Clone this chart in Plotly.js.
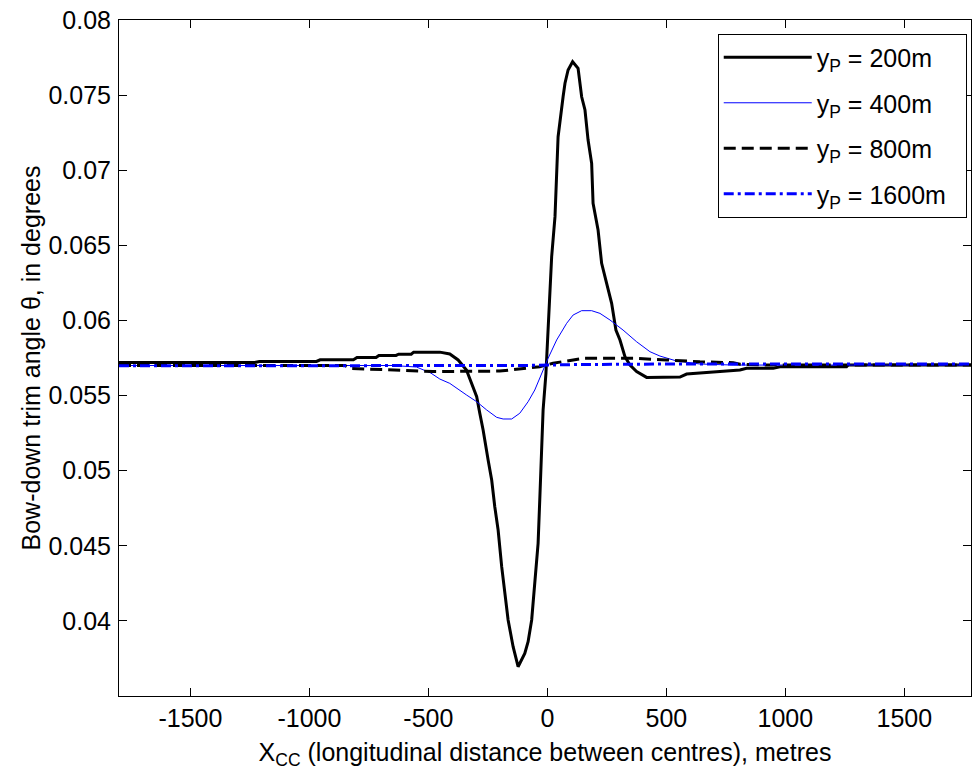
<!DOCTYPE html>
<html>
<head>
<meta charset="utf-8">
<script src="https://cdn.plot.ly/plotly-3.0.1.min.js"></script>
<style>html,body{margin:0;padding:0;background:#fff;}#chart{width:972px;height:776px;}</style>
</head>
<body>
<div id="chart"></div>
<script>
// ---- data ----
const seriesNames = ["y<sub>P</sub> = 200m", "y<sub>P</sub> = 400m", "y<sub>P</sub> = 800m", "y<sub>P</sub> = 1600m"];

const x200 = [-1800, -1230, -1210, -970, -955, -815, -800, -720, -708, -636, -625, -572, -562, -452, -410, -375, -340, -318, -297, -284, -270, -249, -234, -221, -207, -192, -179, -165, -144, -123, -95, -81, -66, -53, -39, -32, -24, -18, -6, 3, 11, 18, 32, 39, 45, 66, 74, 87, 106, 129, 144, 158, 171, 186, 192, 213, 228, 249, 270, 288, 305, 326, 347, 375, 417, 557, 585, 711, 809, 837, 949, 977, 1257, 1263, 1780];
const y200 = [0.05720, 0.05720, 0.05727, 0.05727, 0.05738, 0.05738, 0.05753, 0.05753, 0.05767, 0.05767, 0.05775, 0.05775, 0.05789, 0.05789, 0.05777, 0.05737, 0.05670, 0.05581, 0.05492, 0.05382, 0.05271, 0.05071, 0.04938, 0.04760, 0.04605, 0.04361, 0.04184, 0.04006, 0.03828, 0.03695, 0.03784, 0.03861, 0.04006, 0.04227, 0.04516, 0.04805, 0.05115, 0.05404, 0.05648, 0.05914, 0.06136, 0.06424, 0.06691, 0.07001, 0.07223, 0.07489, 0.07579, 0.07667, 0.07722, 0.07678, 0.07489, 0.07401, 0.07201, 0.07046, 0.06780, 0.06602, 0.06380, 0.06247, 0.06114, 0.05936, 0.05870, 0.05759, 0.05703, 0.05659, 0.05621, 0.05623, 0.05643, 0.05659, 0.05670, 0.05681, 0.05681, 0.05692, 0.05692, 0.05703, 0.05703];

const x400 = [-1800, -650, -550, -490, -452, -410, -339, -297, -255, -213, -186, -150, -116, -81, -53, -24, 3, 39, 81, 108, 144, 186, 221, 263, 318, 375, 431, 473, 543, 641, 781, 1780];
const y400 = [0.05700, 0.05700, 0.05690, 0.05650, 0.05610, 0.05581, 0.05503, 0.05459, 0.05404, 0.05355, 0.05344, 0.05344, 0.05382, 0.05459, 0.05537, 0.05648, 0.05748, 0.05870, 0.05981, 0.06036, 0.06065, 0.06065, 0.06047, 0.06003, 0.05936, 0.05858, 0.05792, 0.05763, 0.05730, 0.05710, 0.05703, 0.05703];

const x800 = [-1800, -850, -830, -662, -481, -200, -87, -32, 24, 81, 150, 361, 445, 501, 641, 781, 809, 921, 1780];
const y800 = [0.05700, 0.05700, 0.05681, 0.05670, 0.05660, 0.05663, 0.05681, 0.05692, 0.05715, 0.05730, 0.05748, 0.05748, 0.05743, 0.05737, 0.05725, 0.05719, 0.05708, 0.05703, 0.05703];

const x1600 = [-1800, -500, -100, 100, 500, 1780];
const y1600 = [0.05698, 0.05697, 0.05700, 0.05706, 0.05710, 0.05710];

const xTickVals = [-1500, -1000, -500, 0, 500, 1000, 1500];
const xTickText = ["-1500", "-1000", "-500", "0", "500", "1000", "1500"];
const yTickVals = [0.04, 0.045, 0.05, 0.055, 0.06, 0.065, 0.07, 0.075, 0.08];
const yTickText = ["0.04", "0.045", "0.05", "0.055", "0.06", "0.065", "0.07", "0.075", "0.08"];

const xTitle = "X<sub>CC</sub> (longitudinal distance between centres), metres";
const yTitle = "Bow-down trim angle θ, in degrees";

// ---- chart ----
const FONT = "Liberation Sans, Arial, Helvetica, sans-serif";
const FS = 25;
const PAD = "\u00a0\u00a0";
const traces = [
  {x: x200, y: y200, name: seriesNames[0] + PAD, legendgroup: "a", mode: "lines",
   line: {color: "#000000", width: 3}},
  {x: x400, y: y400, name: seriesNames[1] + PAD, legendgroup: "b", mode: "lines",
   line: {color: "#0000ff", width: 1}},
  {x: x800, y: y800, name: seriesNames[2] + PAD, legendgroup: "c", mode: "lines",
   line: {color: "#000000", width: 3, dash: "12px,6px"}},
  {x: x1600, y: y1600, name: seriesNames[3] + PAD, legendgroup: "d", mode: "lines",
   line: {color: "#0000ff", width: 3, dash: "10px,4px,3px,4px"}}
];

const axisCommon = {
  showgrid: false, zeroline: false, showline: true, linecolor: "#000", linewidth: 1,
  mirror: "ticks", ticks: "inside", ticklen: 8, tickwidth: 1, tickcolor: "#000",
  tickfont: {family: FONT, size: FS, color: "#000"}
};

const layout = {
  width: 972, height: 776,
  margin: {l: 119, r: 1, t: 20, b: 80, pad: 0},
  paper_bgcolor: "#fff", plot_bgcolor: "#fff",
  font: {family: FONT, size: FS, color: "#000"},
  showlegend: true,
  legend: {
    x: 0.995, xanchor: "right", y: 0.980, yanchor: "top",
    bgcolor: "#fff", bordercolor: "#000", borderwidth: 1,
    font: {family: FONT, size: FS, color: "#000"},
    traceorder: "grouped", tracegroupgap: 10, itemwidth: 88
  },
  xaxis: Object.assign({}, axisCommon, {
    range: [-1800, 1780], tickmode: "array", tickvals: xTickVals, ticktext: xTickText,
    title: {text: xTitle, font: {family: FONT, size: FS, color: "#000"}, standoff: 12},
    automargin: false
  }),
  yaxis: Object.assign({}, axisCommon, {
    range: [0.035, 0.08], tickmode: "array", tickvals: yTickVals, ticktext: yTickText,
    ticklabelstandoff: 2,
    title: {text: yTitle, font: {family: FONT, size: FS, color: "#000"}, standoff: 0},
    automargin: false
  }),
  hovermode: false
};

Plotly.newPlot("chart", traces, layout, {staticPlot: true, displayModeBar: false});
</script>
</body>
</html>
